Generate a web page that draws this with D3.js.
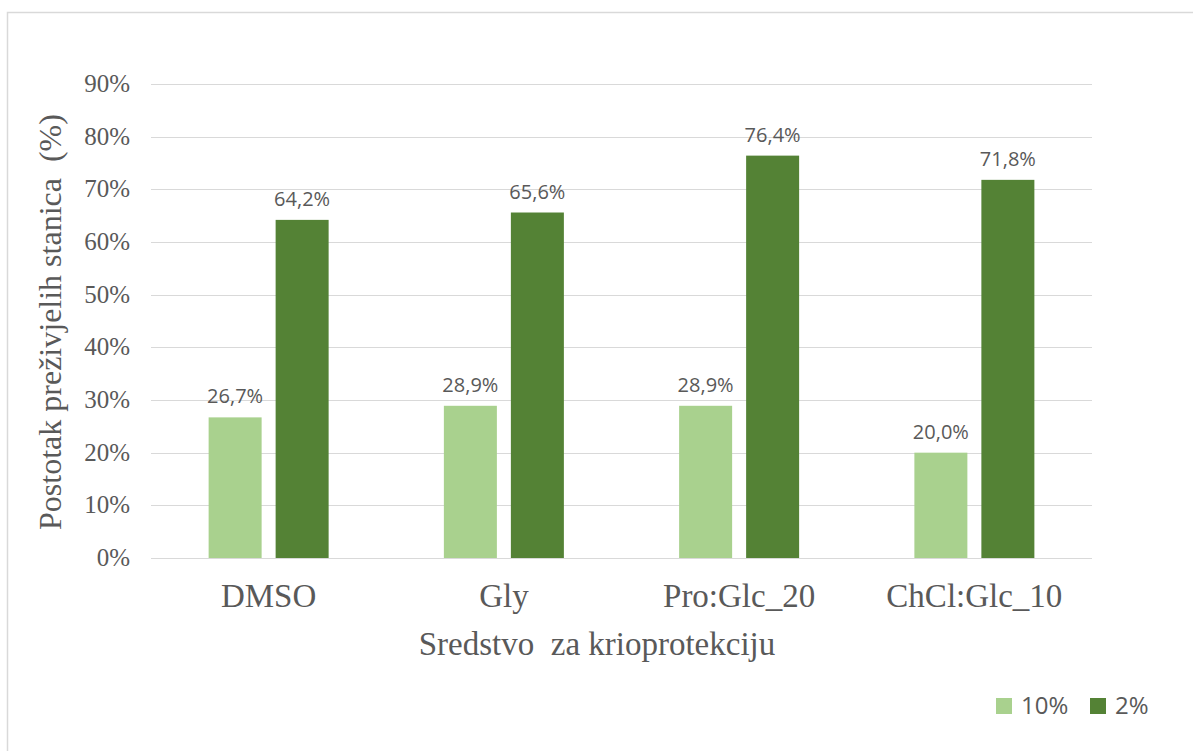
<!DOCTYPE html>
<html>
<head>
<meta charset="utf-8">
<script src="https://cdn.jsdelivr.net/npm/d3@7"></script>
<style>
  body { margin: 0; background: #fff; }
  svg { display: block; }
</style>
</head>
<body>
<svg id="chart"></svg>
<script>
const categories = ['DMSO', 'Gly', 'Pro:Glc_20', 'ChCl:Glc_10'];
const seriesNames = ['10%', '2%'];
const values10 = [26.7, 28.9, 28.9, 20.0];
const values2 = [64.2, 65.6, 76.4, 71.8];
const yTicks = [0, 10, 20, 30, 40, 50, 60, 70, 80, 90];
const colors = ['#a9d18e', '#548235'];

const width = 1193, height = 751;
const serif = '"Liberation Serif", "Times New Roman", serif';
const sans = '"Open Sans", "Liberation Sans", sans-serif';

const svg = d3.select('#chart').attr('width', width).attr('height', height);

// chart border (right/bottom run off the picture)
svg.append('rect')
  .attr('x', 7.5).attr('y', 12.5)
  .attr('width', width + 20).attr('height', height + 20)
  .attr('fill', 'none').attr('stroke', '#d9d9d9').attr('stroke-width', 1.5);

const y = d3.scaleLinear().domain([0, 90]).range([558, 84]);
const x0 = d3.scaleBand().domain(categories).range([151, 1092]);
const x1 = d3.scaleBand().domain(seriesNames).range([0, x0.bandwidth()])
  .paddingInner(0.209).paddingOuter(0.86);

const rows = categories.map((c, i) => ({ cat: c, vals: [values10[i], values2[i]] }));

// gridlines
svg.append('g').selectAll('line').data(yTicks).join('line')
  .attr('x1', 151).attr('x2', 1092)
  .attr('y1', d => Math.round(y(d)) + 0.5).attr('y2', d => Math.round(y(d)) + 0.5)
  .attr('stroke', '#d9d9d9').attr('stroke-width', 1);

// y tick labels
svg.append('g').selectAll('text').data(yTicks).join('text')
  .attr('x', 130).attr('y', d => y(d) + 8)
  .attr('text-anchor', 'end')
  .attr('font-family', serif).attr('font-size', 25).attr('fill', '#595959')
  .text(d => d + '%');

// bars
const groups = svg.append('g').selectAll('g').data(rows).join('g')
  .attr('transform', d => `translate(${x0(d.cat)},0)`);

groups.selectAll('rect')
  .data(d => d.vals.map((v, i) => ({ key: seriesNames[i], v, i })))
  .join('rect')
  .attr('x', d => x1(d.key))
  .attr('width', x1.bandwidth())
  .attr('y', d => y(d.v))
  .attr('height', d => y(0) - y(d.v))
  .attr('fill', d => colors[d.i]);

groups.selectAll('text')
  .data(d => d.vals.map((v, i) => ({ key: seriesNames[i], v, i })))
  .join('text')
  .attr('x', d => x1(d.key) + x1.bandwidth() / 2)
  .attr('y', d => y(d.v) - 14)
  .attr('text-anchor', 'middle')
  .attr('font-family', sans).attr('font-size', 20).attr('fill', '#595959')
  .text(d => d.v.toFixed(1).replace('.', ',') + '%');

// category labels
svg.append('g').selectAll('text').data(categories).join('text')
  .attr('x', d => x0(d) + x0.bandwidth() / 2)
  .attr('y', 607)
  .attr('text-anchor', 'middle')
  .attr('font-family', serif).attr('font-size', 33).attr('fill', '#595959')
  .text(d => d);

// axis titles
svg.append('text')
  .attr('x', 597).attr('y', 655)
  .attr('text-anchor', 'middle')
  .attr('font-family', serif).attr('font-size', 33).attr('fill', '#595959')
  .style('white-space', 'pre')
  .text('Sredstvo  za krioprotekciju');

svg.append('text')
  .attr('transform', 'translate(61,322) rotate(-90)')
  .attr('text-anchor', 'middle')
  .attr('font-family', serif).attr('font-size', 32).attr('fill', '#595959')
  .style('white-space', 'pre')
  .text('Postotak preživjelih stanica  (%)');

// legend
const legendX = [996, 1090];
const legend = svg.append('g').selectAll('g').data(seriesNames).join('g')
  .attr('transform', (d, i) => `translate(${legendX[i]},698)`);
legend.append('rect').attr('width', 16).attr('height', 16)
  .attr('fill', (d, i) => colors[i]);
legend.append('text').attr('x', 25).attr('y', 16)
  .attr('font-family', sans).attr('font-size', 24).attr('fill', '#595959')
  .text(d => d);
</script>
</body>
</html>
